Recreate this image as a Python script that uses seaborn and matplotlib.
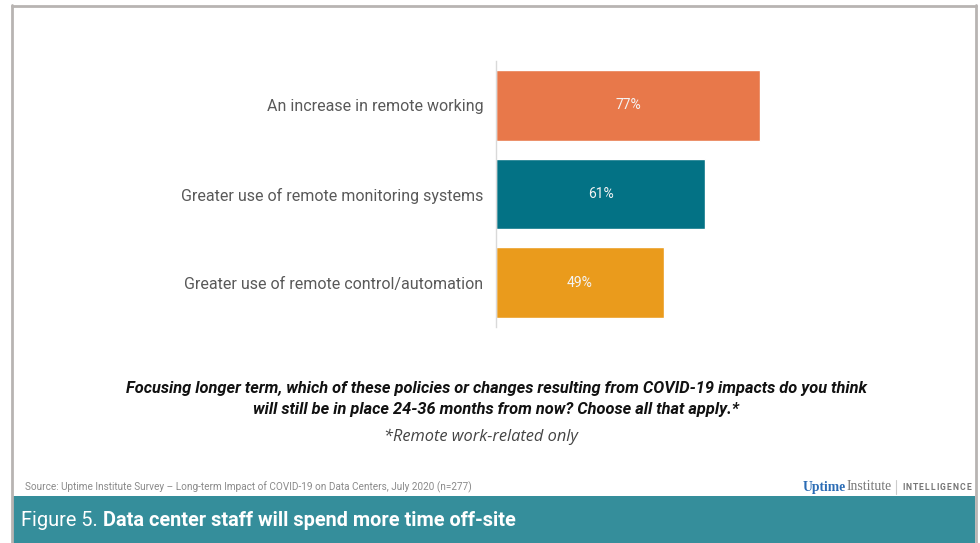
import matplotlib
matplotlib.use("Agg")
import matplotlib.pyplot as plt
import seaborn as sns
import pandas as pd
from matplotlib.patches import Rectangle
from matplotlib.lines import Line2D

categories = ["An increase in remote working",
              "Greater use of remote monitoring systems",
              "Greater use of remote control/automation"]
values = [77, 61, 49]
value_labels = ["77%", "61%", "49%"]
colors = ["#E8784A", "#037285", "#EA9B1C"]

question = ("Focusing longer term, which of these policies or changes resulting from COVID-19 impacts do you think\n"
            "will still be in place 24-36 months from now? Choose all that apply.*")
footnote = "*Remote work-related only"
source = "Source: Uptime Institute Survey \u2013 Long-term Impact of COVID-19 on Data Centers, July 2020 (n=277)"
fig_prefix = "Figure 5. "
fig_title = "Data center staff will spend more time off-site"

sns.set_theme(style="white")
plt.rcParams['font.family'] = ['Roboto', 'DejaVu Sans']

W, H = 980, 543
fig = plt.figure(figsize=(W / 100, H / 100), dpi=100)

def fx(px):
    return px / W

def fy(py):
    return 1 - py / H

ax = fig.add_axes([fx(496), fy(327), fx(839) - fx(496), fy(61) - fy(327)])
df = pd.DataFrame({"cat": categories, "val": values})
sns.barplot(data=df, x="val", y="cat", hue="cat", palette=colors, legend=False,
            width=0.8, saturation=1, ax=ax, orient="h")
ax.set_xlim(0, 100)
ax.set_ylim(2.5, -0.5)
ax.set_xlabel("")
ax.set_ylabel("")
ax.set_xticks([])
for s in ["top", "right", "bottom"]:
    ax.spines[s].set_visible(False)
ax.spines["left"].set_color("#d9d9d9")
ax.spines["left"].set_linewidth(1.0)
ax.tick_params(axis="y", length=0, pad=9, labelsize=11.5, labelcolor="#595959")
for i, (v, lab) in enumerate(zip(values, value_labels)):
    ax.text(v / 2, i, lab, ha="center", va="center", color="#f4f4f4", fontsize=10)

# border
fig.add_artist(Line2D([fx(12), fx(12)], [fy(5), 0], color="#b8b4b2", lw=2))
fig.add_artist(Line2D([fx(12), fx(976)], [fy(6), fy(6)], color="#b8b4b2", lw=2))
fig.add_artist(Line2D([fx(976), fx(976)], [fy(5), 0], color="#b8b4b2", lw=2))

# question
fig.text(fx(496), fy(399), question, ha="center", va="center", fontsize=11.8,
         fontweight="bold", style="italic", color="#111111", linespacing=1.45)
fig.text(fx(481), fy(437), footnote, ha="center", va="center", fontsize=11.8,
         style="italic", family=["Open Sans", "DejaVu Sans"], color="#444444")

# source
fig.text(fx(25), fy(487), source, ha="left", va="center", fontsize=7.2, color="#8a8a8a")

# logo
renderer = fig.canvas.get_renderer()
t1 = fig.text(fx(803), fy(487), "Uptime", ha="left", va="center", fontsize=9.8,
              family=["Liberation Serif", "DejaVu Serif"], fontweight="bold", color="#2b6cb5")
bb = t1.get_window_extent(renderer)
t2 = fig.text(bb.x1 / W, fy(487), "Institute", ha="left", va="center", fontsize=9.8,
              family=["Liberation Serif", "DejaVu Serif"], color="#777777")
fig.add_artist(Line2D([fx(896), fx(896)], [fy(480), fy(494)], color="#cccccc", lw=0.8))
letters = []
widths = []
for ch in "INTELLIGENCE":
    t = fig.text(0, fy(487), ch, ha="left", va="center", fontsize=6.2,
                 color="#777777", fontweight="bold")
    letters.append(t)
    widths.append(t.get_window_extent(renderer).width)
track = (69 - sum(widths)) / (len(widths) - 1)
xcur = 902.0
for t, w in zip(letters, widths):
    t.set_x(fx(xcur))
    xcur += w + track

# band
fig.add_artist(Rectangle((fx(13), 0), fx(975) - fx(13), fy(496), color="#358E9B", lw=0))
p = fig.text(fx(21), fy(521), fig_prefix, ha="left", va="center", fontsize=14.35, color="white")
pb = p.get_window_extent(renderer)
fig.text(pb.x1 / W, fy(521), fig_title, ha="left", va="center", fontsize=14.35,
         color="white", fontweight="bold")

fig.savefig("out.png", dpi=100)
